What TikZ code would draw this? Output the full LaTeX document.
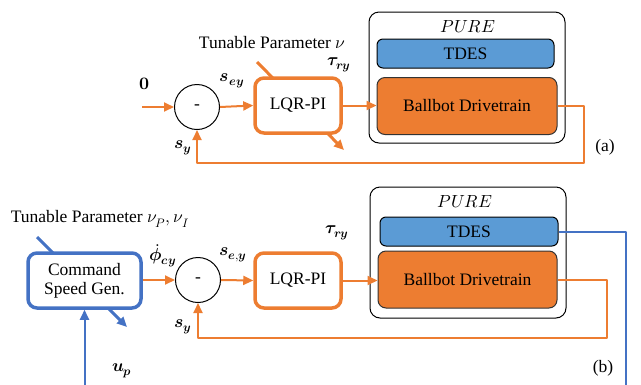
\documentclass[tikz,border=0pt]{standalone}
\usepackage{fontspec}
\usepackage{unicode-math}
\setmainfont{Liberation Serif}
\setmathfont{Latin Modern Math}
\usetikzlibrary{arrows.meta}
\definecolor{corange}{HTML}{ED7D31}
\definecolor{cblue}{HTML}{4472C4}
\definecolor{ctdes}{HTML}{5B9BD5}
\tikzset{
  sig/.style={draw=corange, line width=2pt},
  bsig/.style={draw=cblue, line width=2pt},
  tune/.style={line width=3pt},
  sumnode/.style={circle, draw, line width=1pt, fill=white, minimum size=45pt, inner sep=0pt},
  ctrl/.style={draw=corange, line width=3.5pt, rounded corners=9pt, fill=white,
    minimum width=86pt, minimum height=55pt, inner sep=0pt},
  cmdbox/.style={draw=cblue, line width=3.5pt, rounded corners=9pt, fill=white,
    minimum width=113pt, minimum height=55pt, inner sep=0pt, align=center},
  plant/.style={draw, line width=1pt, rounded corners=10pt, minimum width=196pt, minimum height=131pt},
  tdesbox/.style={draw, line width=1pt, rounded corners=6pt, fill=ctdes, minimum width=177pt, minimum height=29pt, inner sep=0pt},
  drivebox/.style={draw=black!80, line width=1pt, rounded corners=8pt, fill=corange, minimum width=180pt, minimum height=57pt, inner sep=0pt},
  lbl/.style={inner sep=0pt}
}
\begin{document}
\fontsize{17.5}{21}\selectfont
\begin{tikzpicture}[x=1pt, y=-1pt, >={Triangle[length=10pt, width=9pt]}, line join=round]
  %% frame
  \useasboundingbox (0,0) rectangle (641,384);
  \clip (0,0) rectangle (641,384);

  %% ---------- (a) ----------
  \coordinate (in1) at (142,107);
  \coordinate (fb1) at (584,163);
  \coordinate (tun1s) at (257,62);
  \coordinate (tun1e) at (344,150);
  \draw [tune, draw=corange, ->] (tun1s) -- (tun1e);
  \node [sumnode] (sum1) at (197,107) {-};
  \node [ctrl] (lqr1) at (298,105.5) {LQR-PI};
  \node [plant] (pure1) at (467,77.5) {};
  \node [tdesbox] (tdes1) at (465.5,53.5) {TDES};
  \node [drivebox] (drive1) at (467,106) {Ballbot Drivetrain};
  \node [lbl] (pl1) at (468,27) {$PURE$};
  %% signals
  \draw [sig, ->] (in1) -- (sum1.west);
  \draw [sig, ->] (sum1.east) -- (lqr1.west);
  \draw [sig, ->] (lqr1.east) -- (lqr1.east -| drive1.west);
  \draw [sig, ->] (drive1.east) -| (fb1) -| (sum1.south);
  %% labels
  \node [lbl] (par1) at (272,43) {Tunable Parameter $\nu$};
  \node [lbl] (zero1) at (145,84) {$\symbf{0}$};
  \node [lbl] (sey1) at (232,81) {$\symbfit{s}_{\symbfit{ey}}$};
  \node [lbl] (tau1) at (339,65) {$\symbfit{\tau}_{\symbfit{ry}}$};
  \node [lbl] (sy1) at (183,148) {$\symbfit{s}_{\symbfit{y}}$};
  \node [lbl] (cap1) at (605,147) {(a)};

  %% ---------- (b) ----------
  \coordinate (fb2) at (607,338);
  \coordinate (tdr2) at (626,395);
  \coordinate (tun2s) at (37,237);
  \coordinate (tun2e) at (127,327);
  \draw [tune, draw=cblue, ->] (tun2s) -- (tun2e);
  \node [cmdbox] (cmd2) at (84.5,280.5) {Command\\[-2pt]Speed Gen.};
  \node [sumnode] (sum2) at (198,280) {-};
  \node [ctrl] (lqr2) at (298,280.5) {LQR-PI};
  \node [plant] (pure2) at (468,252.5) {};
  \node [tdesbox, minimum width=178pt] (tdes2) at (469,231.5) {TDES};
  \node [drivebox, minimum width=179pt] (drive2) at (467.5,279.5) {Ballbot Drivetrain};
  \node [lbl] (pl2) at (465,202) {$PURE$};
  %% signals
  \draw [sig, ->] (cmd2.east |- sum2) -- (sum2.west);
  \draw [sig, ->] (sum2.east) -- (lqr2.west);
  \draw [sig, ->] (lqr2.east) -- (lqr2.east -| drive2.west);
  \draw [sig, ->] (drive2.east) -| (fb2) -| (sum2.south);
  \draw [bsig, ->] (tdes2.east) -| (tdr2) -| (cmd2.south);
  %% labels
  \node [lbl] (par2) at (100,219) {Tunable Parameter $\nu_P, \nu_I$};
  \node [lbl] (phi2) at (163,256) {$\dot{\symbfit{\phi}}_{\symbfit{cy}}$};
  \node [lbl] (sey2) at (233,255) {$\symbfit{s}_{\symbfit{e,y}}$};
  \node [lbl] (tau2) at (337,233) {$\symbfit{\tau}_{\symbfit{ry}}$};
  \node [lbl] (sy2) at (183,327) {$\symbfit{s}_{\symbfit{y}}$};
  \node [lbl] (up2) at (122,371) {$\symbfit{u}_{\symbfit{p}}$};
  \node [lbl] (cap2) at (603,368) {(b)};
\end{tikzpicture}
\end{document}
